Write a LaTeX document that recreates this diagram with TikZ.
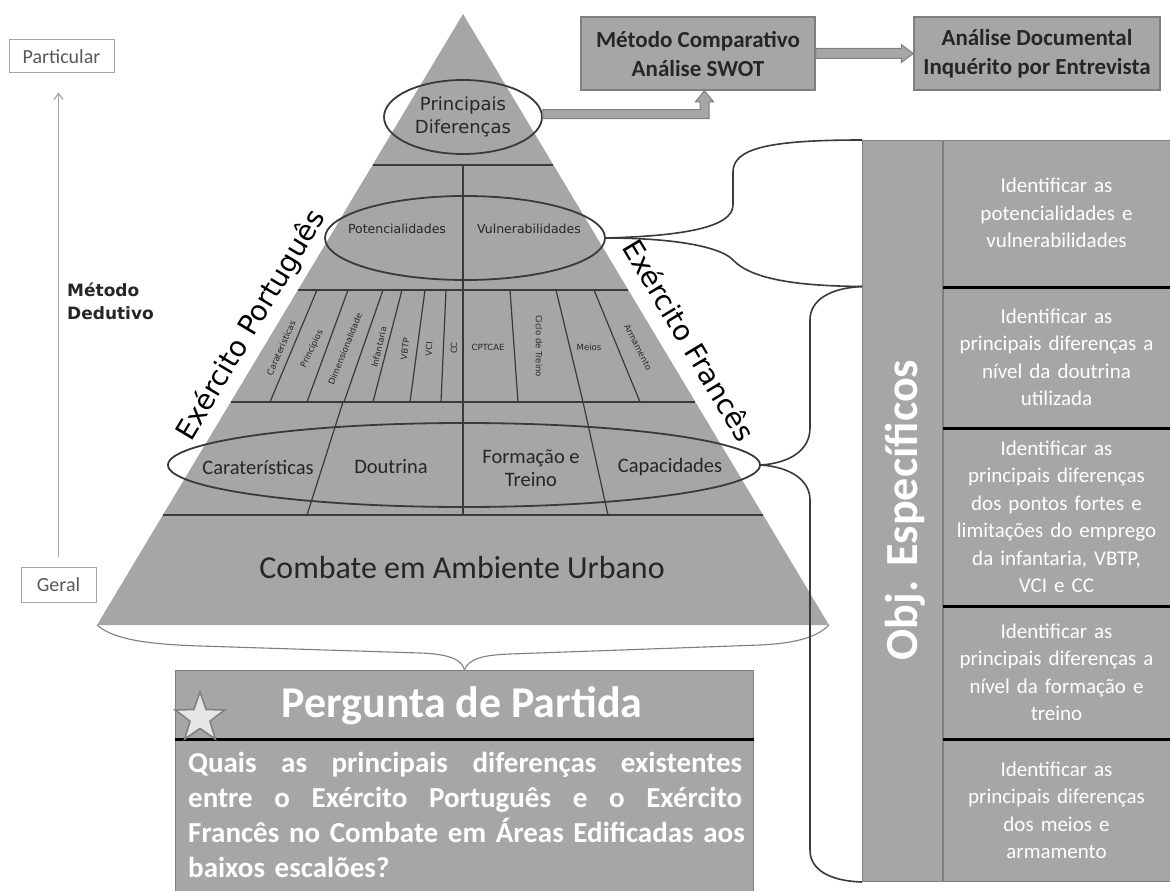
\documentclass[tikz,border=0pt]{standalone}
\usepackage{fontspec}
\setmainfont{Carlito}
\newfontfamily\dejavu{DejaVu Sans}
\usetikzlibrary{shapes.geometric,calc,arrows.meta}
\definecolor{pgray}{HTML}{A6A6A6}
\definecolor{lgray}{HTML}{3A3A3A}
\definecolor{bgray}{HTML}{7F7F7F}
\definecolor{tgray}{HTML}{262626}
\definecolor{axgray}{HTML}{A8A8A8}
\definecolor{stargray}{HTML}{E6E6E6}
\newcommand{\fsz}[2]{\fontsize{#1pt}{#2pt}\selectfont}
\begin{document}
\begin{tikzpicture}[x=1pt,y=-1pt,
  bandline/.style={draw=lgray,line width=1.2pt},
  ring/.style={ellipse,draw=lgray,line width=1.8pt,inner sep=0pt},
  ptext/.style={text=tgray,inner sep=0pt},
  tinylbl/.style={text=tgray,font=\dejavu\fsz{8.5}{9},inner sep=0pt},
  topbox/.style={draw=bgray,line width=1.5pt,fill=pgray,minimum height=73pt,align=center,font=\bfseries\fsz{23}{29},text=black!85,inner sep=0pt},
  cellbox/.style={fill=pgray,draw=bgray,line width=1pt,minimum width=227pt,inner sep=0pt,align=center,text=white,font=\fsz{21}{27.5},text width=225pt},
  blockarrow/.style={fill=pgray,draw=bgray,line width=1pt},
  bracket/.style={draw=lgray,line width=1.6pt},
  scalelbl/.style={draw=bgray!70,line width=1pt,text=black!65,font=\fsz{20}{22},inner sep=0pt},
  armylbl/.style={fill=white,inner xsep=1pt,inner ysep=7pt,text=black,font=\dejavu\fsz{28}{30},anchor=base},
  sepline/.style={draw=black,line width=3pt}
]
\useasboundingbox (0,0) rectangle (1170,891);
\fill[white] (0,0) rectangle (1170,891);

% ---------- pyramid ----------
\coordinate (apex) at (463,14);
\coordinate (bl) at (97,625);
\coordinate (br) at (829,625);
\fill[pgray] (apex) -- (bl) -- (br) -- cycle;
\foreach \t in {0.2471,0.4517,0.635,0.82}
  \draw[bandline] ($(apex)!\t!(bl)$) -- ($(apex)!\t!(br)$);
\draw[bandline] (463,165) -- (463,515);
% small band dividers
\draw[bandline] (317,290) -- (270,402);
\draw[bandline] (348,290) -- (307,402);
\draw[bandline] (383,290) -- (344,402);
\draw[bandline] (402,290) -- (373,402);
\draw[bandline] (425,290) -- (410,402);
\draw[bandline] (446,290) -- (441,402);
\draw[bandline] (510,290) -- (518,402);
\draw[bandline] (556,290) -- (583,402);
\draw[bandline] (594,290) -- (640,402);
% fourth band dividers
\draw[bandline] (343,402) -- (307,515);
\draw[bandline] (583,402) -- (608,515);

% small band labels
\node[tinylbl,rotate=66] (s1) at (281,348) {Caraterísticas};
\node[tinylbl,rotate=64] (s2) at (312,349) {Princípios};
\node[tinylbl,rotate=68] (s3) at (345,349) {Dimensionalidade};
\node[tinylbl,rotate=77] (s4) at (379,347) {Infantaria};
\node[tinylbl,rotate=82] (s5) at (405,349) {VBTP};
\node[tinylbl,rotate=86] (s6) at (429,349) {VCI};
\node[tinylbl,rotate=90] (s7) at (454,348) {CC};
\node[tinylbl] (s8) at (488,347) {CPTCAE};
\node[tinylbl,rotate=-90] (s9) at (539,346) {Ciclo de Treino};
\node[tinylbl] (s10) at (589,347) {Meios};
\node[tinylbl,rotate=-63] (s11) at (638,347) {Armamento};

% band texts
\node[ptext,font=\dejavu\fsz{18}{23},align=center] (pd) at (463,117) {Principais\\Diferenças};
\node[ptext,font=\dejavu\fsz{12.5}{14}] (pot) at (397,229) {Potencialidades};
\node[ptext,font=\dejavu\fsz{12.5}{14}] (vul) at (529,229) {Vulnerabilidades};
\node[ptext,font=\fsz{20.5}{23}] (car) at (258,467) {Caraterísticas};
\node[ptext,font=\fsz{20.5}{23}] (dou) at (391,467) {Doutrina};
\node[ptext,font=\fsz{20.5}{23},align=center] (frm) at (531,468) {Formação e\\Treino};
\node[ptext,font=\fsz{20.5}{23}] (cap) at (670,467) {Capacidades};
\node[ptext,font=\fsz{32}{34}] (cam) at (462,568) {Combate em Ambiente Urbano};

% army labels along the edges
\node[armylbl,rotate=59] (ep) at ($($(apex)!0.528!(bl)$)+(-11.1,-6.7)$) {Exército Português};
\node[armylbl,rotate=-59] (ef) at ($($(apex)!0.556!(br)$)+(13.7,-8.2)$) {Exército Francês};

% ellipses
\node[ring,minimum width=158pt,minimum height=74pt] (e1) at (463,117) {};
\node[ring,minimum width=280pt,minimum height=84pt] (e2) at (465,238) {};
\node[ring,minimum width=592pt,minimum height=84pt] (e3) at (464,465) {};

% ---------- left scale ----------
\node[scalelbl,minimum width=105pt,minimum height=33pt] (part) at (61.5,56.5) {Particular};
\node[scalelbl,minimum width=75pt,minimum height=35pt] (geral) at (58.5,584.5) {Geral};
\coordinate (axb) at ($(geral.north)+(0,-10)$);
\draw[axgray,line width=1.3pt,-{Straight Barb[length=6pt,width=9pt]},shorten >=19pt] (axb) -- (axb |- part.south);
\node[anchor=west,align=left,inner sep=0pt,font=\dejavu\bfseries\fsz{17}{23},text=black!85] (md) at (67,301) {Método\\Dedutivo};

% ---------- top boxes ----------
\node[topbox,minimum width=234pt] (m1) at (698,53.5) {Método Comparativo\\Análise SWOT};
\node[topbox,minimum width=246pt] (m2) at (1037,53.5) {Análise Documental\\Inquérito por Entrevista};
\fill[blockarrow] ($(m1.east)+(0,-5)$) -- ($(m2.west)+(-12,-5)$) -- ($(m2.west)+(-12,-9)$) -- (m2.west)
   -- ($(m2.west)+(-12,9)$) -- ($(m2.west)+(-12,5)$) -- ($(m1.east)+(0,5)$) -- cycle;
\coordinate (a1) at ($(m1.south)+(6.5,0)$);
\coordinate (s0) at ($(e1.east)+(0,-3)$);
\fill[blockarrow] ($(s0)+(0,-4.5)$) -- ($(a1 |- s0)+(-4.5,-4.5)$) -- ($(a1)+(-4.5,11)$) -- ($(a1)+(-9,11)$)
   -- (a1) -- ($(a1)+(9,11)$) -- ($(a1)+(4.5,11)$) -- ($(a1 |- s0)+(4.5,4.5)$) -- ($(s0)+(0,4.5)$) -- cycle;

% ---------- pergunta de partida ----------
\node[draw=bgray,fill=pgray,line width=1pt,minimum width=578pt,minimum height=68pt,anchor=north west,inner sep=0pt] (ph) at (175,670) {};
\node[draw=bgray,fill=pgray,line width=1pt,minimum width=578pt,minimum height=153pt,anchor=north west,inner sep=0pt] (pb) at (175,739) {};
\draw[sepline] (ph.south west) -- (ph.south east);
\node[star,star points=5,star point ratio=2.5,minimum size=52pt,inner sep=0pt,fill=stargray,draw=bgray,line width=1.5pt] (st) at (200,718) {};
\node[text=white,inner sep=0pt,font=\bfseries\fsz{44}{46}] (pt) at (462,706) {Pergunta de Partida};
\node[anchor=north west,text width=554pt,inner sep=0pt,text=white,font=\bfseries\fsz{29}{35}] (pq) at (188,752)
 {\makebox[554pt][s]{Quais \hfill as \hfill principais \hfill diferenças \hfill existentes}\\
  \makebox[554pt][s]{entre \hfill o \hfill Exército \hfill Português \hfill e \hfill o \hfill Exército}\\
  \makebox[554pt][s]{Francês \hfill no \hfill Combate \hfill em \hfill Áreas \hfill Edificadas \hfill aos}\\
  baixos escalões?};

% brace under pyramid
\draw[bgray,line width=1.1pt] (bl) .. controls (112,638) and (140,644) .. (200,646) -- (420,653)
   .. controls (450,654) and (462,660) .. (ph.north);
\draw[bgray,line width=1.1pt] (ph.north) .. controls (468,660) and (480,655) .. (510,654) -- (760,645)
   .. controls (800,643) and (818,636) .. (br);

% ---------- objectives column ----------
\node[draw=bgray,fill=pgray,line width=1pt,minimum width=80pt,minimum height=741pt,anchor=north west,inner sep=0pt] (col) at (862,140) {};
\node[rotate=90,text=white,inner sep=0pt,font=\bfseries\fsz{46}{46}] (objt) at (905,510) {Obj. Específicos};
\node[cellbox,minimum height=146pt] (c1) at (1056.5,213) {Identificar as\\potencialidades e\\vulnerabilidades};
\node[cellbox,minimum height=139pt] (c2) at (1056.5,357.5) {Identificar as\\principais diferenças a\\nível da doutrina\\utilizada};
\node[cellbox,minimum height=176pt] (c3) at (1056.5,517) {Identificar as\\principais diferenças\\dos pontos fortes e\\limitações do emprego\\da infantaria, VBTP,\\VCI e CC};
\node[cellbox,minimum height=131pt] (c4) at (1056.5,672.5) {Identificar as\\principais diferenças a\\nível da formação e\\treino};
\node[cellbox,minimum height=141pt] (c5) at (1056.5,810.5) {Identificar as\\principais diferenças\\dos meios e\\armamento};
\draw[sepline] ($(c1.south west)+(0,1)$) -- ($(c1.south east)+(0,1)$);
\draw[sepline] ($(c2.south west)+(0,1)$) -- ($(c2.south east)+(0,1)$);
\draw[sepline] ($(c3.south west)+(0,1)$) -- ($(c3.south east)+(0,1)$);
\draw[sepline] ($(c4.south west)+(0,1)$) -- ($(c4.south east)+(0,1)$);

% brackets
\coordinate (b1a) at (col.north west);
\coordinate (b1b) at (col.west |- c1.south);
\coordinate (b2b) at (col.south west);
\draw[bracket] (b1a) .. controls (770,140) and (733,148) .. (733,172) -- (733,205)
   .. controls (733,228) and (680,236) .. (e2.east);
\draw[bracket] (e2.east) .. controls (680,238) and (722,248) .. (733,260)
   .. controls (752,280) and (800,286) .. (b1b);
\draw[bracket] (b1b) .. controls (830,288) and (810,300) .. (810,320) -- (810,428)
   .. controls (810,450) and (790,463) .. (e3.east);
\draw[bracket] (e3.east) .. controls (790,467) and (810,480) .. (810,500) -- (810,850)
   .. controls (810,870) and (830,881) .. (b2b);
\end{tikzpicture}
\end{document}
